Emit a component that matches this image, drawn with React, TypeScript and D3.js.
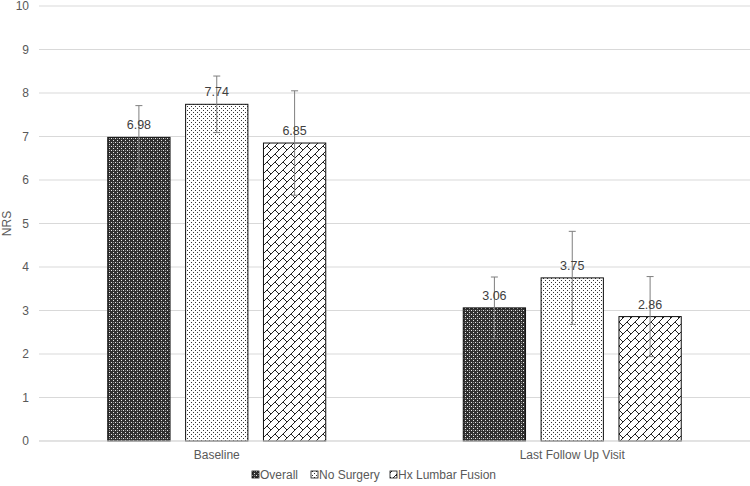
import { useEffect, useRef } from 'react'
import * as d3 from 'd3'

const categories = ['Baseline', 'Last Follow Up Visit']
const seriesNames = ['Overall', 'No Surgery', 'Hx Lumbar Fusion']
const overall = [6.98, 3.06]
const noSurgery = [7.74, 3.75]
const hxFusion = [6.85, 2.86]
const overallErr = [0.73, 0.71]
const noSurgeryErr = [0.65, 1.07]
const hxFusionErr = [1.2, 0.92]
const yTicks = [0, 1, 2, 3, 4, 5, 6, 7, 8, 9, 10]

const width = 750
const height = 486

export default function App() {
  const svgRef = useRef<SVGSVGElement>(null)

  useEffect(() => {
    if (!svgRef.current) return
    d3.select(svgRef.current).selectAll('*').remove()

    const margin = { top: 6, right: 0, bottom: 45, left: 39 }
    const innerWidth = width - margin.left - margin.right
    const innerHeight = height - margin.top - margin.bottom
    const font = '"Liberation Sans", Arial, sans-serif'
    const textColor = '#595959'

    const svg = d3.select(svgRef.current)
      .attr('width', width)
      .attr('height', height)

    // Patterns
    const defs = svg.append('defs')

    const pOverall = defs.append('pattern')
      .attr('id', 'p-overall')
      .attr('patternUnits', 'userSpaceOnUse')
      .attr('width', 4).attr('height', 4)
    pOverall.append('rect').attr('width', 4).attr('height', 4).attr('fill', '#303030')
    pOverall.append('rect').attr('x', 0).attr('y', 0).attr('width', 1).attr('height', 1).attr('fill', '#e8e8e8')
    pOverall.append('rect').attr('x', 2).attr('y', 2).attr('width', 1).attr('height', 1).attr('fill', '#e8e8e8')
    pOverall.append('rect').attr('x', 2).attr('y', 0).attr('width', 1).attr('height', 1).attr('fill', '#8a8a8a')

    const pNoSurg = defs.append('pattern')
      .attr('id', 'p-nosurg')
      .attr('patternUnits', 'userSpaceOnUse')
      .attr('width', 4).attr('height', 4)
    pNoSurg.append('rect').attr('width', 4).attr('height', 4).attr('fill', '#fff')
    pNoSurg.append('rect').attr('x', 0).attr('y', 0).attr('width', 1).attr('height', 1).attr('fill', '#333')
    pNoSurg.append('rect').attr('x', 2).attr('y', 2).attr('width', 1).attr('height', 1).attr('fill', '#333')

    const pHx = defs.append('pattern')
      .attr('id', 'p-hx')
      .attr('patternUnits', 'userSpaceOnUse')
      .attr('width', 8).attr('height', 8)
    pHx.append('rect').attr('width', 8).attr('height', 8).attr('fill', '#fff')
    pHx.append('path')
      .attr('d', 'M-1,9 L9,-1 M4,4 L8,8')
      .attr('stroke', '#222')
      .attr('stroke-width', 1)
      .attr('fill', 'none')

    const fills = ['url(#p-overall)', 'url(#p-nosurg)', 'url(#p-hx)']
    const values = [overall, noSurgery, hxFusion]
    const errors = [overallErr, noSurgeryErr, hxFusionErr]

    const g = svg.append('g').attr('transform', `translate(${margin.left},${margin.top})`)

    const x0 = d3.scaleBand().domain(categories).range([0, innerWidth])
    const x1 = d3.scaleBand().domain(seriesNames).range([0, 218]).paddingInner(0.2)
    const y = d3.scaleLinear().domain([0, 10]).range([innerHeight, 0])

    // Gridlines
    g.append('g')
      .selectAll('line')
      .data(yTicks)
      .join('line')
      .attr('x1', 0)
      .attr('x2', innerWidth)
      .attr('y1', d => y(d))
      .attr('y2', d => y(d))
      .attr('stroke', '#d9d9d9')
      .attr('stroke-width', 1)

    // Y tick labels
    g.append('g')
      .selectAll('text')
      .data(yTicks)
      .join('text')
      .attr('x', -10)
      .attr('y', d => y(d))
      .attr('dy', '0.35em')
      .attr('text-anchor', 'end')
      .attr('font-family', font)
      .attr('font-size', 12)
      .attr('fill', textColor)
      .text(d => d)

    svg.append('text')
      .attr('transform', `translate(11,${margin.top + innerHeight / 2}) rotate(-90)`)
      .attr('text-anchor', 'middle')
      .attr('font-family', font)
      .attr('font-size', 12)
      .attr('fill', textColor)
      .text('NRS')

    // Bars
    categories.forEach((cat, ci) => {
      const groupX = x0(cat)! + x0.bandwidth() / 2 - 109
      seriesNames.forEach((s, si) => {
        const v = values[si][ci]
        const e = errors[si][ci]
        const bx = groupX + x1(s)!
        const bw = x1.bandwidth()
        g.append('rect')
          .attr('x', bx)
          .attr('y', y(v))
          .attr('width', bw)
          .attr('height', y(0) - y(v))
          .attr('fill', fills[si])
          .attr('stroke', '#111')
          .attr('stroke-width', 1)

        const cx = bx + bw / 2
        g.append('line')
          .attr('x1', cx).attr('x2', cx)
          .attr('y1', y(v + e)).attr('y2', y(v - e))
          .attr('stroke', '#7f7f7f').attr('stroke-width', 1)
        ;[v + e, v - e].forEach(t => {
          g.append('line')
            .attr('x1', cx - 3.5).attr('x2', cx + 3.5)
            .attr('y1', y(t)).attr('y2', y(t))
            .attr('stroke', '#7f7f7f').attr('stroke-width', 1)
        })

        g.append('text')
          .attr('x', cx)
          .attr('y', y(v) - 8)
          .attr('text-anchor', 'middle')
          .attr('font-family', font)
          .attr('font-size', 12.5)
          .attr('fill', '#404040')
          .text(v.toFixed(2))
      })
    })

    // X axis line
    g.append('line')
      .attr('x1', 0).attr('x2', innerWidth)
      .attr('y1', y(0)).attr('y2', y(0))
      .attr('stroke', '#d9d9d9')

    g.append('g')
      .selectAll('text')
      .data(categories)
      .join('text')
      .attr('x', d => x0(d)! + x0.bandwidth() / 2)
      .attr('y', innerHeight + 18)
      .attr('text-anchor', 'middle')
      .attr('font-family', font)
      .attr('font-size', 12)
      .attr('fill', textColor)
      .text(d => d)

    // Legend
    const legendX = [252, 311, 390]
    const legend = svg.append('g').attr('transform', `translate(0,479)`)
    seriesNames.forEach((s, i) => {
      legend.append('rect')
        .attr('x', legendX[i])
        .attr('y', -8)
        .attr('width', 7).attr('height', 7)
        .attr('fill', fills[i])
        .attr('stroke', '#111')
        .attr('stroke-width', 0.8)
      legend.append('text')
        .attr('x', legendX[i] + 8)
        .attr('y', 0)
        .attr('font-family', font)
        .attr('font-size', 12)
        .attr('fill', textColor)
        .text(s)
    })
  }, [])

  return (
    <svg ref={svgRef} style={{ position: 'absolute', left: 0, top: 0, display: 'block' }} />
  )
}
